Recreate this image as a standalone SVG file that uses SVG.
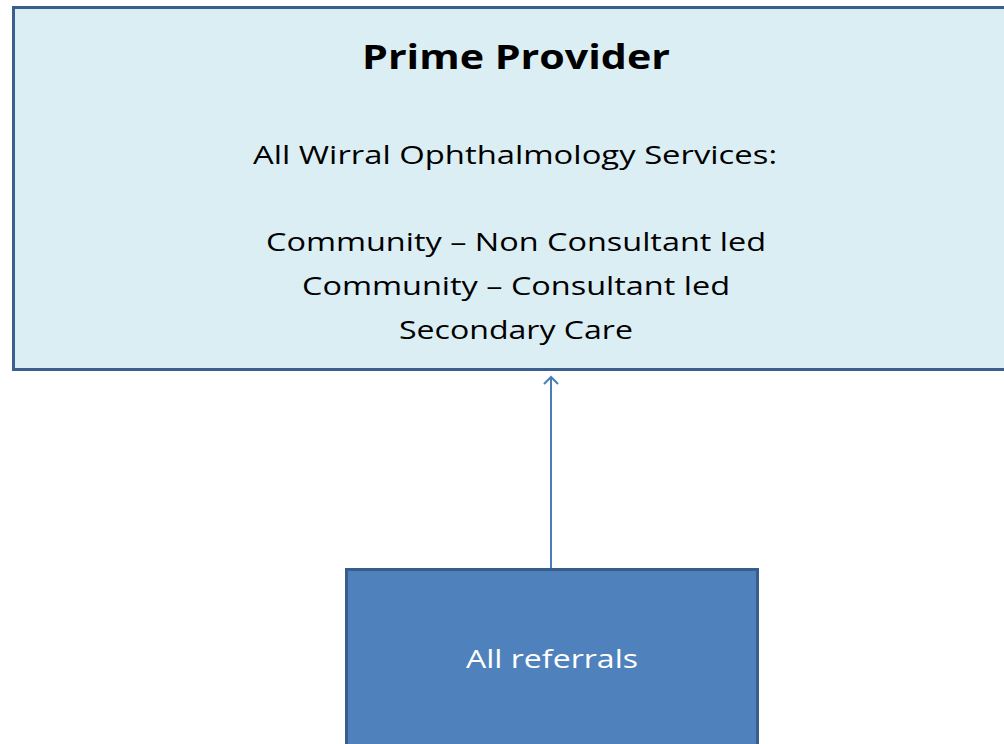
<svg xmlns="http://www.w3.org/2000/svg" width="1004" height="744" viewBox="0 0 1004 744">
<style>
.t{font-family:"Open Sans","Liberation Sans",sans-serif;fill:#000;text-anchor:middle}
.w{font-family:"Open Sans","Liberation Sans",sans-serif;fill:#fff;text-anchor:middle}
</style>
<defs>
<marker id="ah" markerWidth="16" markerHeight="16" refX="9" refY="8" orient="auto" markerUnits="userSpaceOnUse" viewBox="0 0 16 16">
<path d="M2,1 L9,8 L2,15" fill="none" stroke="#4A7EBB" stroke-width="2"/>
</marker>
</defs>
<g id="connectors">
<line x1="551" y1="568" x2="551" y2="377" stroke="#4A7EBB" stroke-width="2" marker-end="url(#ah)"/>
</g>
<g id="prime-provider">
<rect x="13.5" y="7.5" width="1000" height="362" fill="#DBEEF4" stroke="#3A5F8F" stroke-width="3"/>
<text class="t" x="516" y="69" font-size="34" font-weight="bold" textLength="308" lengthAdjust="spacingAndGlyphs">Prime Provider</text>
<text class="t" x="515" y="164" font-size="26" textLength="524" lengthAdjust="spacingAndGlyphs">All Wirral Ophthalmology Services:</text>
<text class="t" x="516" y="251" font-size="26" textLength="500" lengthAdjust="spacingAndGlyphs">Community – Non Consultant led</text>
<text class="t" x="516" y="295" font-size="26" textLength="428" lengthAdjust="spacingAndGlyphs">Community – Consultant led</text>
<text class="t" x="516" y="339" font-size="26" textLength="234" lengthAdjust="spacingAndGlyphs">Secondary Care</text>
</g>
<g id="all-referrals">
<rect x="346.5" y="569.5" width="411" height="200" fill="#4F81BD" stroke="#385D8A" stroke-width="3"/>
<text class="w" x="552" y="668" font-size="26" textLength="172" lengthAdjust="spacingAndGlyphs">All referrals</text>
</g>
</svg>
